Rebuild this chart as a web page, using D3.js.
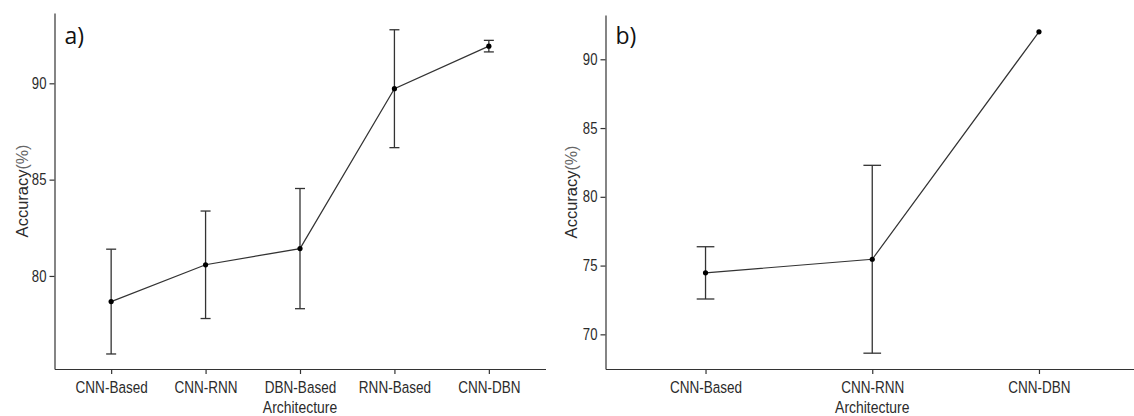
<!DOCTYPE html>
<html>
<head>
<meta charset="utf-8">
<script src="https://cdn.jsdelivr.net/npm/d3@7"></script>
<style>
  body { margin: 0; background: #fff; }
  .tick text { font-family: "Liberation Sans", Arial, sans-serif; fill: #2b2b2b; }
  .tick line, .domain { stroke: #333; stroke-width: 1.2px; }
</style>
</head>
<body>
<script>
(function (d3) {
    "use strict";

    /***** Données *****/
    var archA = ["CNN-Based", "CNN-RNN", "DBN-Based", "RNN-Based", "CNN-DBN"];
    var accA = [78.67, 80.58, 81.42, 89.72, 91.93];
    var errA = [2.72, 2.79, 3.12, 3.06, 0.30];
    var ticksA = [80, 85, 90];

    var archB = ["CNN-Based", "CNN-RNN", "CNN-DBN"];
    var accB = [74.47, 75.46, 92.0];
    var errB = [1.9, 6.83, null];
    var ticksB = [70, 75, 80, 85, 90];

    /***** Configuration *****/
    var width = 1134, height = 416;
    var narrow = 0.82;   // pas de police "narrow" installée : on comprime

    var svg = d3.select("body")
        .append("svg")
        .attr("width", width)
        .attr("height", height);

    var panels = [
        { tag: "a)", cats: archA, acc: accA, err: errA, ticks: ticksA,
          left: 54.5, right: 545.5, top: 13, bottom: 369, yDomain: [75.17, 93.65], titleX: 28 },
        { tag: "b)", cats: archB, acc: accB, err: errB, ticks: ticksB,
          left: 605.5, right: 1139, top: 15, bottom: 369, yDomain: [67.48, 93.22], titleX: 577 }
    ];

    panels.forEach(drawPanel);

    function drawPanel(p) {
        var g = svg.append("g");

        /***** Échelles *****/
        var x = d3.scalePoint().domain(p.cats).range([p.left, p.right]).padding(0.6);
        var y = d3.scaleLinear().domain(p.yDomain).range([p.bottom, p.top]);

        var data = p.cats.map(function (c, i) {
            return { cat: c, acc: p.acc[i], err: p.err[i] };
        });

        /***** Axes *****/
        g.append("g")
            .attr("transform", "translate(0," + p.bottom + ")")
            .call(d3.axisBottom(x).tickSize(5).tickSizeOuter(0).tickPadding(7.5))
            .selectAll("text")
            .style("font-size", "16.5px")
            .attr("transform", "scale(" + narrow + ",1)");

        g.append("g")
            .attr("transform", "translate(" + p.left + ",0)")
            .call(d3.axisLeft(y).tickValues(p.ticks).tickSize(5).tickSizeOuter(0).tickPadding(4.8))
            .selectAll("text")
            .style("font-size", "16px")
            .attr("transform", "scale(" + narrow + ",1)");

        /***** Titres *****/
        var cx = (p.left + p.right) / 2;
        g.append("text")
            .attr("transform", "translate(" + cx + ",412.5) scale(" + narrow + ",1)")
            .attr("text-anchor", "middle")
            .style("font-family", "'Liberation Sans', Arial, sans-serif")
            .style("font-size", "17px")
            .style("fill", "#2b2b2b")
            .text("Architecture");

        var yTitle = g.append("text")
            .attr("transform", "translate(" + p.titleX + "," + (p.top + p.bottom) / 2 + ") rotate(-90)")
            .attr("text-anchor", "middle")
            .style("font-family", "'Liberation Sans', Arial, sans-serif")
            .style("font-size", "16.5px")
            .style("fill", "#2b2b2b");
        yTitle.append("tspan").text("Accuracy");
        yTitle.append("tspan").style("fill", "#666").style("font-size", "16px").text("(%)");

        g.append("text")
            .attr("x", p.left + 10)
            .attr("y", 44)
            .style("font-family", "'Open Sans', Lato, sans-serif")
            .style("font-size", "23px")
            .style("fill", "#111")
            .text(p.tag);

        /***** Barres d'erreur *****/
        var hw = x.step() * 0.053;
        var bars = g.selectAll(".err")
            .data(data.filter(function (d) { return d.err != null; }))
            .enter().append("g")
            .attr("class", "err")
            .style("stroke", "#333")
            .style("stroke-width", 1.3);

        bars.append("line")
            .attr("x1", function (d) { return x(d.cat); })
            .attr("x2", function (d) { return x(d.cat); })
            .attr("y1", function (d) { return y(d.acc - d.err); })
            .attr("y2", function (d) { return y(d.acc + d.err); });
        [-1, 1].forEach(function (s) {
            bars.append("line")
                .attr("x1", function (d) { return x(d.cat) - hw; })
                .attr("x2", function (d) { return x(d.cat) + hw; })
                .attr("y1", function (d) { return y(d.acc + s * d.err); })
                .attr("y2", function (d) { return y(d.acc + s * d.err); });
        });

        /***** Ligne et points *****/
        g.append("path")
            .datum(data)
            .attr("fill", "none")
            .attr("stroke", "#333")
            .attr("stroke-width", 1.2)
            .attr("d", d3.line()
                .x(function (d) { return x(d.cat); })
                .y(function (d) { return y(d.acc); }));

        g.selectAll(".pt")
            .data(data)
            .enter().append("circle")
            .attr("class", "pt")
            .attr("cx", function (d) { return x(d.cat); })
            .attr("cy", function (d) { return y(d.acc); })
            .attr("r", 2.6)
            .attr("fill", "#000");
    }

})(d3);
</script>
</body>
</html>
